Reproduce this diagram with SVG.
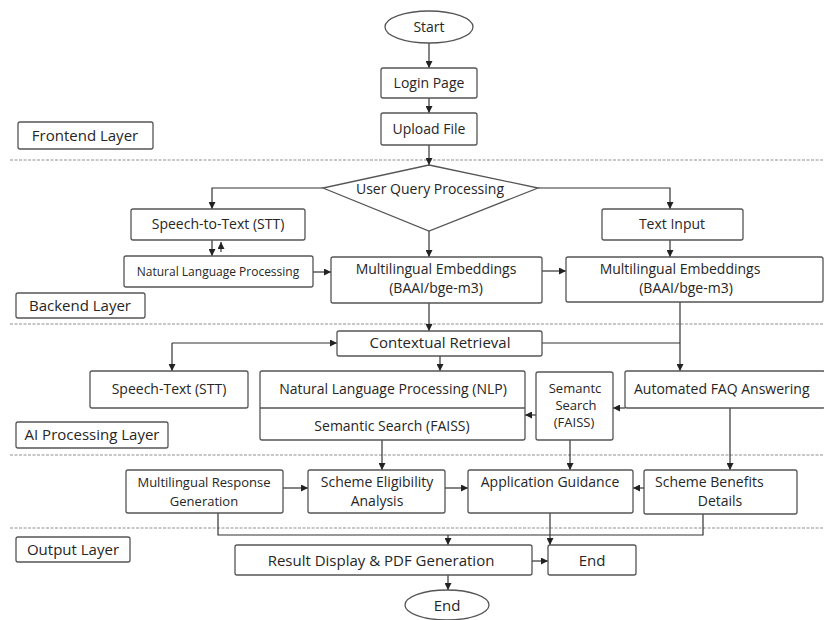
<svg xmlns="http://www.w3.org/2000/svg" width="824" height="620" viewBox="0 0 824 620">
<style>
  .bg{fill:#ffffff}
  .box{fill:#ffffff;stroke:#555;stroke-width:1.3}
  .lbl{fill:#ffffff;stroke:#555;stroke-width:1.3}
  .div{stroke:#b5b5b5;stroke-width:1.6;stroke-dasharray:3 1.5;fill:none}
  .t{font-family:"Open Sans","Noto Sans","Liberation Sans",sans-serif;font-size:14px;fill:#262626;text-anchor:middle}
  .s{font-size:13px}
  .xs{font-size:12px}
  .l{font-size:15px}
  .st{text-anchor:start}
  .c{stroke:#333;stroke-width:1.2;fill:none}
</style>
<defs>
  <marker id="ah" viewBox="0 0 8 8" refX="8" refY="4" markerWidth="7" markerHeight="7" markerUnits="userSpaceOnUse" orient="auto">
    <path d="M0,0 L8,4 L0,8 z" fill="#222"/>
  </marker>
</defs>
<rect class="bg" x="0" y="0" width="824" height="620"/>

<g id="dividers">
  <line class="div" x1="10" y1="160" x2="824" y2="160"/>
  <line class="div" x1="10" y1="324" x2="824" y2="324"/>
  <line class="div" x1="10" y1="455" x2="824" y2="455"/>
  <line class="div" x1="10" y1="528" x2="824" y2="528"/>
</g>

<g id="layer-labels">
  <g id="frontend-layer"><rect class="lbl" x="18" y="122" width="135" height="27" rx="2"/><text class="t l" x="85" y="141">Frontend Layer</text></g>
  <g id="backend-layer"><rect class="lbl" x="16" y="293" width="129" height="25" rx="2"/><text class="t l" x="80" y="311">Backend Layer</text></g>
  <g id="ai-layer"><rect class="lbl" x="16" y="422" width="152" height="26" rx="2"/><text class="t l" x="92" y="440">AI Processing Layer</text></g>
  <g id="output-layer"><rect class="lbl" x="16" y="537" width="114" height="25" rx="2"/><text class="t l" x="73" y="555">Output Layer</text></g>
</g>

<g id="connectors">
  <line class="c" x1="429" y1="43" x2="429" y2="68" marker-end="url(#ah)"/>
  <line class="c" x1="429" y1="98" x2="429" y2="113" marker-end="url(#ah)"/>
  <line class="c" x1="429" y1="145" x2="429" y2="165" marker-end="url(#ah)"/>
  <polyline class="c" points="323,188 212,188 212,209" marker-end="url(#ah)"/>
  <polyline class="c" points="538,188 670,188 670,209" marker-end="url(#ah)"/>
  <line class="c" x1="212" y1="240" x2="212" y2="256" marker-end="url(#ah)"/>
  <line class="c" x1="221" y1="252" x2="221" y2="242" marker-end="url(#ah)" stroke-width="0.8"/>
  <line class="c" x1="313" y1="272" x2="331" y2="272" marker-end="url(#ah)"/>
  <line class="c" x1="429" y1="231" x2="429" y2="257" marker-end="url(#ah)"/>
  <line class="c" x1="542" y1="271" x2="566" y2="271" marker-end="url(#ah)"/>
  <line class="c" x1="670" y1="240" x2="670" y2="257" marker-end="url(#ah)"/>
  <line class="c" x1="429" y1="303" x2="429" y2="331" marker-end="url(#ah)"/>
  <line class="c" x1="680" y1="302" x2="680" y2="371" marker-end="url(#ah)"/>
  <line class="c" x1="542" y1="343" x2="680" y2="343"/>
  <line class="c" x1="172" y1="343" x2="337" y2="343" marker-end="url(#ah)"/>
  <line class="c" x1="172" y1="343" x2="172" y2="371" marker-end="url(#ah)"/>
  <line class="c" x1="440" y1="356" x2="440" y2="371" marker-end="url(#ah)"/>
  <line class="c" x1="536" y1="415" x2="525" y2="415" marker-end="url(#ah)"/>
  <line class="c" x1="625" y1="408" x2="613" y2="408" marker-end="url(#ah)"/>
  <line class="c" x1="382" y1="440" x2="382" y2="470" marker-end="url(#ah)"/>
  <line class="c" x1="570" y1="440" x2="570" y2="470" marker-end="url(#ah)"/>
  <line class="c" x1="730" y1="408" x2="730" y2="470" marker-end="url(#ah)"/>
  <line class="c" x1="283" y1="488" x2="308" y2="488" marker-end="url(#ah)"/>
  <line class="c" x1="445" y1="488" x2="468" y2="488" marker-end="url(#ah)"/>
  <line class="c" x1="644" y1="488" x2="633" y2="488" marker-end="url(#ah)"/>
  <polyline class="c" points="218,513 218,535 703,535 703,514"/>
  <line class="c" x1="448" y1="535" x2="448" y2="545" marker-end="url(#ah)"/>
  <line class="c" x1="550" y1="513" x2="550" y2="545" marker-end="url(#ah)"/>
  <line class="c" x1="532" y1="561" x2="548" y2="561" marker-end="url(#ah)"/>
  <line class="c" x1="448" y1="575" x2="448" y2="590" marker-end="url(#ah)"/>
</g>

<g id="start"><ellipse class="box" cx="429" cy="27" rx="44" ry="16"/><text class="t" x="429" y="32">Start</text></g>
<g id="login"><rect class="box" x="381" y="68" width="96" height="30" rx="2"/><text class="t" x="429" y="88">Login Page</text></g>
<g id="upload"><rect class="box" x="381" y="113" width="96" height="32" rx="2"/><text class="t" x="429" y="134">Upload File</text></g>

<g id="user-query"><polygon class="box" points="429,165 538,188 429,231 323,188"/><text class="t" x="430" y="194">User Query Processing</text></g>
<g id="stt"><rect class="box" x="131" y="209" width="174" height="31" rx="2"/><text class="t" x="218" y="229">Speech-to-Text (STT)</text></g>
<g id="nlp-backend"><rect class="box" x="124" y="256" width="189" height="31" rx="2"/><text class="t xs" x="218" y="276">Natural Language Processing</text></g>
<g id="embed-mid"><rect class="box" x="331" y="257" width="211" height="46" rx="2"/><text class="t" x="436" y="274">Multilingual Embeddings</text><text class="t" x="436" y="293">(BAAI/bge-m3)</text></g>
<g id="text-input"><rect class="box" x="602" y="209" width="141" height="31" rx="2"/><text class="t" x="672" y="229">Text Input</text></g>
<g id="embed-right"><rect class="box" x="566" y="257" width="257" height="45" rx="2"/><text class="t" x="680" y="274">Multilingual Embeddings</text><text class="t" x="686" y="293">(BAAI/bge-m3)</text></g>

<g id="contextual"><rect class="box" x="337" y="331" width="205" height="25" rx="2"/><text class="t l" x="440" y="348">Contextual Retrieval</text></g>
<g id="speech-text"><rect class="box" x="90" y="371" width="158" height="37" rx="2"/><text class="t" x="169" y="394">Speech-Text (STT)</text></g>
<g id="nlp-semantic"><rect class="box" x="260" y="371" width="265" height="69" rx="2"/><line class="box" x1="260" y1="408" x2="525" y2="408"/><text class="t" x="393" y="394">Natural Language Processing (NLP)</text><text class="t" x="392" y="431">Semantic Search (FAISS)</text></g>
<g id="semantc"><rect class="box" x="536" y="372" width="77" height="68" rx="2"/><text class="t s" x="575" y="393">Semantc</text><text class="t s" x="576" y="410">Search</text><text class="t s" x="574" y="427">(FAISS)</text></g>
<g id="faq"><rect class="box" x="625" y="371" width="200" height="37" rx="2"/><text class="t st" x="634" y="394">Automated FAQ Answering</text></g>

<g id="mrg"><rect class="box" x="126" y="470" width="157" height="43" rx="2"/><text class="t s" x="204" y="487">Multilingual Response</text><text class="t s" x="204" y="506">Generation</text></g>
<g id="sea"><rect class="box" x="308" y="470" width="137" height="43" rx="2"/><text class="t" x="377" y="487">Scheme Eligibility</text><text class="t" x="377" y="506">Analysis</text></g>
<g id="guidance"><rect class="box" x="468" y="470" width="165" height="43" rx="2"/><text class="t" x="550" y="487">Application Guidance</text></g>
<g id="benefits"><rect class="box" x="644" y="470" width="153" height="44" rx="2"/><text class="t st" x="655" y="487">Scheme Benefits</text><text class="t" x="720" y="506">Details</text></g>

<g id="result"><rect class="box" x="235" y="545" width="297" height="30" rx="2"/><text class="t l" x="381" y="566">Result Display &amp; PDF Generation</text></g>
<g id="end-box"><rect class="box" x="548" y="545" width="88" height="30" rx="2"/><text class="t l" x="592" y="566">End</text></g>
<g id="end"><ellipse class="box" cx="447" cy="605" rx="42" ry="15"/><text class="t l" x="447" y="611">End</text></g>
</svg>
